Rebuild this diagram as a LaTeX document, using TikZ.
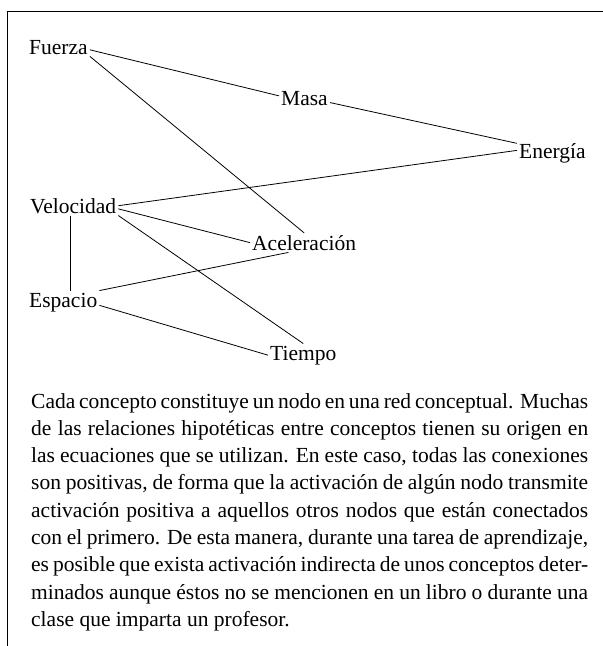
\documentclass[tikz,border=0pt]{standalone}
\usepackage{fontspec}
\setmainfont{Liberation Serif}
\tikzset{
  concept/.style={inner sep=2pt, anchor=base west, font=\fontsize{21.5pt}{26pt}\selectfont},
  link/.style={line width=0.8pt},
  frameline/.style={line width=1pt}
}
\newcommand{\fullline}[1]{\hbox to 557pt{#1}}
\begin{document}
\begin{tikzpicture}[x=1pt,y=-1pt]
\useasboundingbox (0,0) rectangle (603,646);
\draw[frameline] (7,646) -- (7,11) -- (603,11);
\node[concept] (F) at (27,54) {Fuerza};
\node[concept] (M) at (279,105) {Masa};
\node[concept] (E) at (517,158) {Energía};
\node[concept] (V) at (28,213) {Velocidad};
\node[concept] (A) at (250,250) {Aceleración};
\node[concept] (S) at (27,307) {Espacio};
\node[concept] (T) at (268,360) {Tiempo};
\draw[link] (F.-5) -- (M.175);
\draw[link] (M.-10) -- (E.165);
\draw[link] (F.south east) -- (A.north);
\draw[link] (V.east) -- (E.176);
\draw[link] (V.-4) -- (A.west);
\draw[link] (V.south east) -- (T.north);
\draw[link] ([xshift=-3pt]V.south) -- ([xshift=-3pt]V.south |- S.north);
\draw[link] (S.north east) -- (A.212);
\draw[link] (S.-5) -- (T.west);
\node[anchor=base west, inner sep=0pt] (P) at (31,408) {\parbox[t]{557pt}{\fontsize{21.5pt}{27.3pt}\selectfont
\fullline{Cada concepto constituye un nodo en una red conceptual. Muchas}
\fullline{de las relaciones hipotéticas entre conceptos tienen su origen en}
\fullline{las ecuaciones que se utilizan. En este caso, todas las conexiones}
\fullline{son positivas, de forma que la activación de algún nodo transmite}
\fullline{activación positiva a aquellos otros nodos que están conectados}
\fullline{con el primero. De esta manera, durante una tarea de aprendizaje,}
\fullline{es posible que exista activación indirecta de unos conceptos deter-}
\fullline{minados aunque éstos no se mencionen en un libro o durante una}
\hbox{clase que imparta un profesor.}}};
\end{tikzpicture}
\end{document}
